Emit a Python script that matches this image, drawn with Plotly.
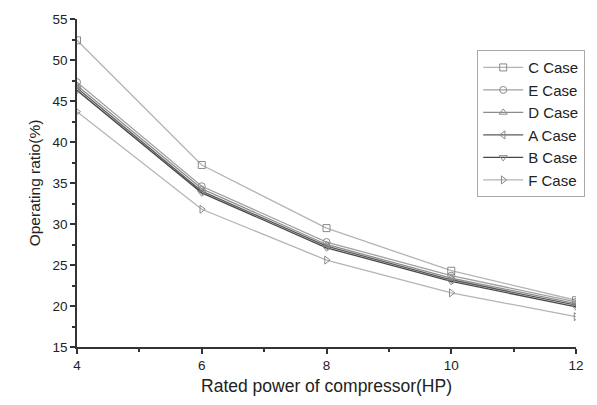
import plotly.graph_objects as go

hp = [4, 6, 8, 10, 12]
case_names = ["C Case", "E Case", "D Case", "A Case", "B Case", "F Case"]
c_case = [52.4, 37.2, 29.5, 24.3, 20.7]
e_case = [47.3, 34.6, 27.8, 23.7, 20.5]
d_case = [46.9, 34.3, 27.5, 23.4, 20.3]
a_case = [46.6, 34.0, 27.3, 23.2, 20.1]
b_case = [46.3, 33.8, 27.1, 23.0, 19.9]
f_case = [43.7, 31.8, 25.6, 21.6, 18.7]

series = [c_case, e_case, d_case, a_case, b_case, f_case]
symbols = ["square-open", "circle-open", "triangle-up-open", "triangle-left-open",
           "triangle-down-open", "triangle-right-open"]
colors = ["#b4b4b4", "#a0a0a0", "#8c8c8c", "#5a5a5a", "#484848", "#b4b4b4"]

fig = go.Figure()
for name, vals, sym, col in zip(case_names, series, symbols, colors):
    fig.add_trace(go.Scatter(
        x=hp, y=vals, name=name, mode="lines+markers",
        line=dict(color=col, width=1.3),
        marker=dict(symbol=sym, size=7, color="#8a8a8a", line=dict(width=1, color="#8a8a8a")),
    ))

fig.update_layout(
    width=597, height=405,
    margin=dict(l=77, r=15, t=15, b=54),
    paper_bgcolor="white", plot_bgcolor="white",
    font=dict(family="Liberation Sans, Arial, sans-serif", color="#222", size=13.5),
    showlegend=True,
    legend=dict(x=0.802, y=0.905, xanchor="left", yanchor="top",
                bordercolor="#aaaaaa", borderwidth=1, bgcolor="white",
                font=dict(size=15, color="#222"), tracegroupgap=0,
                itemwidth=40),
)
fig.update_xaxes(
    range=[4, 12], tickvals=[4, 6, 8, 10, 12], showgrid=False, zeroline=False,
    showline=True, linecolor="#333", linewidth=1.5, ticks="outside", ticklen=5,
    tickcolor="#333", tickwidth=1.5,
    minor=dict(tickvals=[5, 7, 9, 11], ticks="outside", ticklen=3, tickcolor="#333"),
    title=dict(text="Rated power of compressor(HP)", font=dict(size=17.5), standoff=8),
)
fig.update_yaxes(
    range=[15, 55], tickvals=[15, 20, 25, 30, 35, 40, 45, 50, 55], showgrid=False,
    zeroline=False, showline=True, linecolor="#333", linewidth=1.5, ticks="outside",
    ticklen=5, tickcolor="#333", tickwidth=1.5,
    minor=dict(tickvals=[17.5, 22.5, 27.5, 32.5, 37.5, 42.5, 47.5, 52.5], ticks="outside",
               ticklen=3, tickcolor="#333"),
    title=dict(text="Operating ratio(%)", font=dict(size=15.5), standoff=8),
)

fig.write_html("out.html")
